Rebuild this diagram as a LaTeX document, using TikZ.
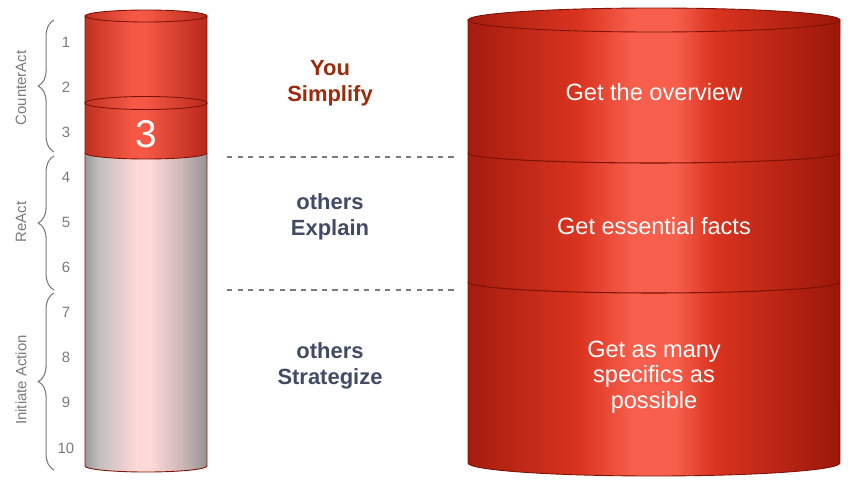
\documentclass[tikz,border=0pt]{standalone}
\usepackage{fontspec}
\setmainfont{Liberation Sans}
\usepackage{xcolor}
\usepackage{tikz}
\usetikzlibrary{decorations.pathreplacing}

\definecolor{rimred}{HTML}{7E1206}
\definecolor{textred}{HTML}{9C2A0C}
\definecolor{textslate}{HTML}{414B63}
\definecolor{labgray}{HTML}{7A7A7A}
\definecolor{rA}{HTML}{A51C0E}
\definecolor{rB}{HTML}{DA3420}
\definecolor{rC}{HTML}{F75E4B}
\definecolor{rD}{HTML}{9B170A}
\definecolor{sA}{HTML}{C2301F}
\definecolor{sB}{HTML}{F55845}
\definecolor{sC}{HTML}{B8281A}
\definecolor{gA}{HTML}{9A9A9A}
\definecolor{gB}{HTML}{C4C0C0}
\definecolor{gC}{HTML}{FFD8D8}
\definecolor{gD}{HTML}{CBB5B5}
\definecolor{gE}{HTML}{959595}

\pgfdeclarehorizontalshading{bigred}{100bp}{color(0bp)=(rA); color(25bp)=(rA);
  color(40bp)=(rB); color(47bp)=(rC); color(53bp)=(rC); color(58bp)=(rB);
  color(75bp)=(rD); color(100bp)=(rD)}
\pgfdeclarehorizontalshading{smallred}{100bp}{color(0bp)=(sA); color(25bp)=(sA);
  color(44bp)=(sB); color(50bp)=(sB); color(75bp)=(sC); color(100bp)=(sC)}
\pgfdeclarehorizontalshading{glass}{100bp}{color(0bp)=(gA); color(25bp)=(gA);
  color(31bp)=(gB); color(46bp)=(gC); color(52bp)=(gC); color(65bp)=(gD);
  color(75bp)=(gE); color(100bp)=(gE)}

\begin{document}
\begin{tikzpicture}[x=0.02cm, y=-0.02cm,
  rim/.style={draw=rimred, line width=0.5pt},
  seam/.style={draw=rimred, line width=0.6pt},
  numlbl/.style={text=labgray, font=\fontsize{8.5}{10}\selectfont},
  bracelbl/.style={text=labgray, font=\fontsize{8.5}{10}\selectfont, rotate=90},
  bracket/.style={draw=labgray, line width=0.6pt,
    decorate, decoration={brace, amplitude=9pt}},
  sepline/.style={draw=labgray, line width=0.7pt, dash pattern=on 3pt off 3pt},
  midtxt/.style={font=\bfseries\fontsize{12.5}{15}\selectfont, align=center},
  cyltxt/.style={text=white, font=\fontsize{13.4}{14.5}\selectfont, align=center}]
\useasboundingbox (0,0) rectangle (850,480);

% Small cylinder: glass part
\path[rim, shading=glass] (85,153) -- (85,466)
  arc[start angle=180, end angle=360, x radius=1.22cm, y radius=0.12cm]
  -- (207,153) -- cycle;
% Small cylinder: upper red part
\path[rim, shading=smallred] (85,16) -- (85,103)
  arc[start angle=180, end angle=360, x radius=1.22cm, y radius=0.13cm]
  -- (207,16) -- cycle;
% Small cylinder: level 3
\path[rim, shading=smallred] (85,103) -- (85,153)
  arc[start angle=180, end angle=360, x radius=1.22cm, y radius=0.12cm]
  -- (207,103) -- cycle;
\path[rim, shading=smallred] (146,103) ellipse[x radius=1.22cm, y radius=0.13cm];
\path[rim, shading=smallred] (146,16) ellipse[x radius=1.22cm, y radius=0.12cm];
\node[text=white, font=\fontsize{22}{24}\selectfont] (level) at (146,134) {3};

% Scale 1..10
\foreach \n in {1,...,10}
  \node[numlbl] (num\n) at (66,{42+45.1*(\n-1)}) {\n};

% Braces
\coordinate (ca-top) at (54,20);
\coordinate (ca-bot) at (54,152);
\coordinate (re-top) at (54,156);
\coordinate (re-bot) at (54,290);
\coordinate (ia-top) at (54,293);
\coordinate (ia-bot) at (54,470);
\draw[bracket] (ca-bot) -- (ca-top);
\draw[bracket] (re-bot) -- (re-top);
\draw[bracket] (ia-bot) -- (ia-top);
\node[bracelbl] (ca-lbl) at (21,88) {CounterAct};
\node[bracelbl] (re-lbl) at (21,222) {ReAct};
\node[bracelbl] (ia-lbl) at (21,380) {Initiate Action};

% Separators
\coordinate (sep1-l) at (227,157);
\coordinate (sep1-r) at (455,157);
\coordinate (sep2-l) at (227,290);
\coordinate (sep2-r) at (455,290);
\draw[sepline] (sep1-l) -- (sep1-r);
\draw[sepline] (sep2-l) -- (sep2-r);

% Middle labels
\node[midtxt, text=textred] (simplify) at (330,83) {You\\Simplify};
\node[midtxt, text=textslate] (explain) at (330,217) {others\\Explain};
\node[midtxt, text=textslate] (strategize) at (330,366) {others\\Strategize};

% Large cylinder
\path[rim, shading=bigred] (468,20) -- (468,463)
  arc[start angle=180, end angle=360, x radius=3.72cm, y radius=0.26cm]
  -- (840,20) -- cycle;
\draw[seam] (468,153)
  arc[start angle=180, end angle=360, x radius=3.72cm, y radius=0.2cm];
\draw[seam] (468,282)
  arc[start angle=180, end angle=360, x radius=3.72cm, y radius=0.22cm];
\path[rim, shading=bigred] (654,20) ellipse[x radius=3.72cm, y radius=0.24cm];

\node[cyltxt] (overview) at (654,92) {Get the overview};
\node[cyltxt] (facts) at (654,226) {Get essential facts};
\node[cyltxt] (specifics) at (654,377) {Get as many\\specifics as\\possible};
\end{tikzpicture}
\end{document}
